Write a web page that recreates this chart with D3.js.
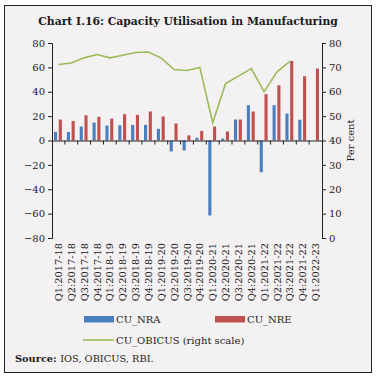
<!DOCTYPE html>
<html>
<head>
<meta charset="utf-8">
<script src="https://cdn.jsdelivr.net/npm/d3@7"></script>
<style>
    body { margin: 0; background: #ffffff; }
    svg { display: block; }
    text { font-family: "DejaVu Serif", serif; fill: #1a1a1a; }
</style>
</head>
<body>
<div id="chart"></div>
<script>
// == DATA == //
let quarters = ["Q1:2017-18", "Q2:2017-18", "Q3:2017-18", "Q4:2017-18",
    "Q1:2018-19", "Q2:2018-19", "Q3:2018-19", "Q4:2018-19",
    "Q1:2019-20", "Q2:2019-20", "Q3:2019-20", "Q4:2019-20",
    "Q1:2020-21", "Q2:2020-21", "Q3:2020-21", "Q4:2020-21",
    "Q1:2021-22", "Q2:2021-22", "Q3:2021-22", "Q4:2021-22",
    "Q1:2022-23"]

let cuNRA = [7.1, 7, 11.5, 14.7, 12.3, 12.5, 12.8, 12.8, 9.6, -9, -8.2, 2.2,
    -61.5, 1.6, 17.2, 29, -26, 29, 22.1, 17, 0]

let cuNRE = [17.2, 16, 20.7, 19.4, 18, 21.6, 21, 23.8, 19.7, 13.9, 4.2, 7.9,
    11.5, 7.4, 17.2, 23.8, 38, 45.3, 65.3, 52.7, 59]

// right scale, last quarters not available
let cuOBICUS = [71.2, 71.8, 73.9, 75.3, 73.9, 75, 76.1, 76.3, 73.8, 69.1, 68.7, 70,
    47.3, 63.4, 66.4, 69.5, 60, 68.2, 72.5, null, null]

let leftTicks = [-80, -60, -40, -20, 0, 20, 40, 60, 80]
let rightTicks = [0, 10, 20, 30, 40, 50, 60, 70, 80]

// == SVG == //
let width = 376, height = 378
let margin = {top: 43, right: 54, bottom: 140, left: 52}

let svg = d3.select("#chart").append("svg")
    .attr("width", width)
    .attr("height", height)

// background and frame
svg.append("rect")
    .attr("x", 4.5).attr("y", 5.5)
    .attr("width", 367).attr("height", 367)
    .attr("fill", "#f4f1f2")
    .attr("stroke", "#222")
    .attr("stroke-width", 1)

svg.append("text")
    .attr("x", 188).attr("y", 25)
    .attr("text-anchor", "middle")
    .attr("font-weight", "bold")
    .attr("font-size", 10.8)
    .text("Chart I.16: Capacity Utilisation in Manufacturing")

let x0 = margin.left, x1 = width - margin.right
let yTop = margin.top, yBot = height - margin.bottom

// scales
let x = d3.scaleBand()
    .domain(quarters)
    .range([x0, x1])

let xSub = d3.scaleBand()
    .domain(["nra", "nre"])
    .range([2, x.bandwidth() - 3])
    .paddingInner(0.35)

let yLeft = d3.scaleLinear()
    .domain([-80, 80])
    .range([yBot, yTop])

let yRight = d3.scaleLinear()
    .domain([0, 80])
    .range([yBot, yTop])

let blue = "#4a7ebf", red = "#c0504d", green = "#9bbb59"

// bars
let bars = svg.append("g")
bars.selectAll(".nra")
    .data(quarters)
    .enter().append("rect")
    .attr("class", "nra")
    .attr("x", (d, i) => x(d) + xSub("nra"))
    .attr("width", xSub.bandwidth())
    .attr("y", (d, i) => yLeft(Math.max(0, cuNRA[i])))
    .attr("height", (d, i) => Math.abs(yLeft(cuNRA[i]) - yLeft(0)))
    .attr("fill", blue)

bars.selectAll(".nre")
    .data(quarters)
    .enter().append("rect")
    .attr("class", "nre")
    .attr("x", (d, i) => x(d) + xSub("nre"))
    .attr("width", xSub.bandwidth())
    .attr("y", (d, i) => yLeft(Math.max(0, cuNRE[i])))
    .attr("height", (d, i) => Math.abs(yLeft(cuNRE[i]) - yLeft(0)))
    .attr("fill", red)

// green line (right scale)
let line = d3.line()
    .defined(d => d[1] != null)
    .x(d => x(d[0]) + x.bandwidth() / 2)
    .y(d => yRight(d[1]))

svg.append("path")
    .datum(quarters.map((q, i) => [q, cuOBICUS[i]]))
    .attr("d", line)
    .attr("fill", "none")
    .attr("stroke", green)
    .attr("stroke-width", 1.6)

// axes
let leftAxis = svg.append("g")
    .attr("transform", `translate(${x0},0)`)
    .call(d3.axisLeft(yLeft).tickValues(leftTicks).tickSize(4).tickPadding(3))

let rightAxis = svg.append("g")
    .attr("transform", `translate(${x1},0)`)
    .call(d3.axisRight(yRight).tickValues(rightTicks).tickSize(4).tickPadding(3))

// zero line with category ticks
let zeroAxis = svg.append("g")
    .attr("transform", `translate(0,${yLeft(0)})`)
    .call(d3.axisBottom(x).tickSize(0).tickFormat(""))
zeroAxis.selectAll(".bnd")
    .data(quarters.slice(1))
    .enter().append("line")
    .attr("class", "bnd")
    .attr("x1", d => x(d)).attr("x2", d => x(d))
    .attr("y1", 0).attr("y2", 4)
    .attr("stroke", "#222")

;[leftAxis, rightAxis, zeroAxis].forEach(g => {
    g.select(".domain").attr("stroke", "#222")
    g.selectAll(".tick line").attr("stroke", "#222")
    g.selectAll("text").attr("font-family", "DejaVu Serif").attr("font-size", 10).attr("fill", "#1a1a1a")
})

// category labels, rotated
svg.append("g").selectAll(".xlab")
    .data(quarters)
    .enter().append("text")
    .attr("class", "xlab")
    .attr("transform", d => `translate(${x(d) + x.bandwidth() / 2 + 3.5},${yBot + 5}) rotate(-90)`)
    .attr("text-anchor", "end")
    .attr("font-size", 9.8)
    .attr("fill", "#333")
    .text(d => d)

// right axis title
svg.append("text")
    .attr("transform", `translate(${x1 + 32},${yLeft(0)}) rotate(-90)`)
    .attr("text-anchor", "middle")
    .attr("font-size", 10)
    .text("Per cent")

// == LEGEND == //
let legend = svg.append("g")
legend.append("rect").attr("x", 84).attr("y", 316).attr("width", 30).attr("height", 6.5).attr("fill", blue)
legend.append("text").attr("x", 116).attr("y", 323).attr("font-size", 10).text("CU_NRA")
legend.append("rect").attr("x", 215).attr("y", 316).attr("width", 30).attr("height", 6.5).attr("fill", red)
legend.append("text").attr("x", 247).attr("y", 323).attr("font-size", 10).text("CU_NRE")
legend.append("line").attr("x1", 83).attr("x2", 114).attr("y1", 340).attr("y2", 340)
    .attr("stroke", green).attr("stroke-width", 1.6)
legend.append("text").attr("x", 116).attr("y", 343.5).attr("font-size", 10).text("CU_OBICUS (right scale)")

let src = svg.append("text").attr("x", 15).attr("y", 362).attr("font-size", 9.8)
src.append("tspan").attr("font-weight", "bold").text("Source: ")
src.append("tspan").text("IOS, OBICUS, RBI.")
</script>
</body>
</html>
